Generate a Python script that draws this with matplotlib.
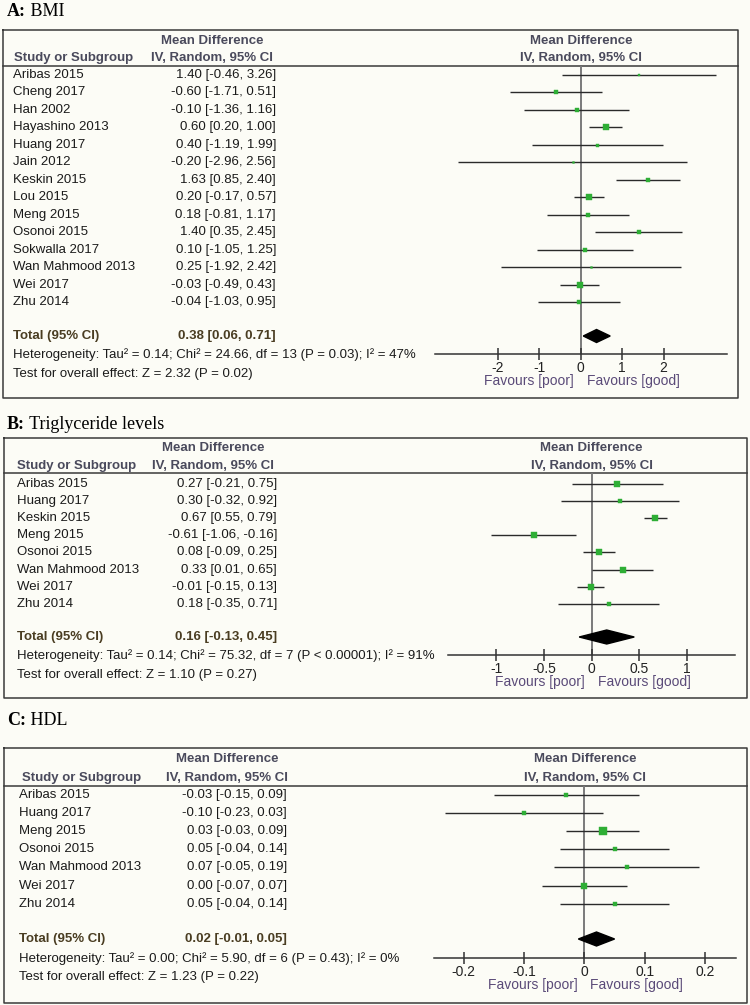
import matplotlib
matplotlib.use("Agg")
from matplotlib import pyplot as plt
from matplotlib.transforms import offset_copy

plt.rcParams["font.family"] = ["Liberation Sans", "DejaVu Sans"]

# ---- data ----
bmi_studies = ["Aribas 2015", "Cheng 2017", "Han 2002", "Hayashino 2013", "Huang 2017",
               "Jain 2012", "Keskin 2015", "Lou 2015", "Meng 2015", "Osonoi 2015",
               "Sokwalla 2017", "Wan Mahmood 2013", "Wei 2017", "Zhu 2014"]
bmi_md = [1.40, -0.60, -0.10, 0.60, 0.40, -0.20, 1.63, 0.20, 0.18, 1.40, 0.10, 0.25, -0.03, -0.04]
bmi_lo = [-0.46, -1.71, -1.36, 0.20, -1.19, -2.96, 0.85, -0.17, -0.81, 0.35, -1.05, -1.92, -0.49, -1.03]
bmi_hi = [3.26, 0.51, 1.16, 1.00, 1.99, 2.56, 2.40, 0.57, 1.17, 2.45, 1.25, 2.42, 0.43, 0.95]
bmi_weight = [2.5, 6, 5, 17, 4, 1.5, 8, 18, 6, 6, 6, 1.5, 15, 8]
bmi_total = (0.38, 0.06, 0.71)
bmi_het = "Heterogeneity: Tau\u00b2 = 0.14; Chi\u00b2 = 24.66, df = 13 (P = 0.03); I\u00b2 = 47%"
bmi_test = "Test for overall effect: Z = 2.32 (P = 0.02)"
bmi_ticks = [-2, -1, 0, 1, 2]
bmi_ticklabels = ["-2", "-1", "0", "1", "2"]

tg_studies = ["Aribas 2015", "Huang 2017", "Keskin 2015", "Meng 2015", "Osonoi 2015",
              "Wan Mahmood 2013", "Wei 2017", "Zhu 2014"]
tg_md = [0.27, 0.30, 0.67, -0.61, 0.08, 0.33, -0.01, 0.18]
tg_lo = [-0.21, -0.32, 0.55, -1.06, -0.09, 0.01, -0.15, -0.35]
tg_hi = [0.75, 0.92, 0.79, -0.16, 0.25, 0.65, 0.13, 0.71]
tg_weight = [12, 10, 14, 12, 14, 12, 14, 11]
tg_total = (0.16, -0.13, 0.45)
tg_het = "Heterogeneity: Tau\u00b2 = 0.14; Chi\u00b2 = 75.32, df = 7 (P < 0.00001); I\u00b2 = 91%"
tg_test = "Test for overall effect: Z = 1.10 (P = 0.27)"
tg_ticks = [-1, -0.5, 0, 0.5, 1]
tg_ticklabels = ["-1", "-0.5", "0", "0.5", "1"]

hdl_studies = ["Aribas 2015", "Huang 2017", "Meng 2015", "Osonoi 2015",
               "Wan Mahmood 2013", "Wei 2017", "Zhu 2014"]
hdl_md = [-0.03, -0.10, 0.03, 0.05, 0.07, 0.00, 0.05]
hdl_lo = [-0.15, -0.23, -0.03, -0.04, -0.05, -0.07, -0.04]
hdl_hi = [0.09, 0.03, 0.09, 0.14, 0.19, 0.07, 0.14]
hdl_weight = [6, 5, 30, 11, 8, 18, 11]
hdl_total = (0.02, -0.01, 0.05)
hdl_het = "Heterogeneity: Tau\u00b2 = 0.00; Chi\u00b2 = 5.90, df = 6 (P = 0.43); I\u00b2 = 0%"
hdl_test = "Test for overall effect: Z = 1.23 (P = 0.22)"
hdl_ticks = [-0.2, -0.1, 0, 0.1, 0.2]
hdl_ticklabels = ["-0.2", "-0.1", "0", "0.1", "0.2"]

BG = "#fcfcf6"
HDR = "#4a4a5c"
TOT = "#4a3d22"
FAV = "#5a4a78"
GREEN = "#2eae35"
FS = 9.5

W, H = 750, 1005
fig = plt.figure(figsize=(W / 100, H / 100), dpi=100, facecolor=BG)
canvas = fig.add_axes([0, 0, 1, 1])
canvas.set_xlim(0, W)
canvas.set_ylim(H, 0)
canvas.axis("off")


def fmt(v):
    return "%.2f [%.2f, %.2f]" % v


def panel(letter, name, lay, studies, md, lo, hi, weight, total, het, test,
          ticks, ticklabels, xlim):
    bx0, by0, bx1, by1 = lay["box"]
    # title
    t = canvas.text(lay["tx"], lay["ty"], letter + ":", family="Liberation Serif",
                    fontsize=13, fontweight="bold", va="baseline", ha="left")
    canvas.annotate(" " + name, xy=(1, 0), xycoords=t, va="bottom", ha="left",
                    family="Liberation Serif", fontsize=13)
    # box
    canvas.plot([bx0, bx1, bx1, bx0, bx0], [by0, by0, by1, by1, by0], color="#3a3a3a", lw=1.1)
    hl = lay["hline"]
    canvas.plot([bx0, bx1], [hl, hl], color="#3a3a3a", lw=1.1)
    # headers
    canvas.text(lay["lhc"], lay["h1"], "Mean Difference", ha="center", va="center",
                fontsize=FS, fontweight="bold", color=HDR)
    canvas.text(lay["lhc"], lay["h2"], "IV, Random, 95% CI", ha="center", va="center",
                fontsize=FS, fontweight="bold", color=HDR)
    canvas.text(lay["shx"], lay["h2"], "Study or Subgroup", ha="left", va="center",
                fontsize=FS, fontweight="bold", color=HDR)
    canvas.text(lay["rhc"], lay["h1"], "Mean Difference", ha="center", va="center",
                fontsize=FS, fontweight="bold", color=HDR)
    canvas.text(lay["rhc"], lay["h2"], "IV, Random, 95% CI", ha="center", va="center",
                fontsize=FS, fontweight="bold", color=HDR)
    # rows
    ys = [lay["row0"] + i * lay["step"] for i in range(len(studies))]
    for s, m, l, h, y in zip(studies, md, lo, hi, ys):
        canvas.text(lay["nx"], y, s, ha="left", va="center", fontsize=FS, color="#1a1a1a")
        canvas.text(lay["vx"], y, fmt((m, l, h)), ha="right", va="center", fontsize=FS,
                    color="#1a1a1a")
    canvas.text(lay["nx"], lay["tot"], "Total (95% CI)", ha="left", va="center",
                fontsize=FS, fontweight="bold", color=TOT)
    canvas.text(lay["vx"], lay["tot"], fmt(total), ha="right", va="center",
                fontsize=FS, fontweight="bold", color=TOT)
    canvas.text(lay["nx"], lay["het"], het, ha="left", va="center", fontsize=FS, color="#1a1a1a")
    canvas.text(lay["nx"], lay["test"], test, ha="left", va="center", fontsize=FS, color="#1a1a1a")

    # forest axes, y in pixel units
    ax0, ax1 = lay["axx"]
    ay = lay["axis"]
    ax = fig.add_axes([ax0 / W, 1 - ay / H, (ax1 - ax0) / W, (ay - hl) / H])
    ax.set_facecolor("none")
    ax.set_xlim(*xlim)
    ax.set_ylim(ay, hl)
    for sp in ["top", "left", "right"]:
        ax.spines[sp].set_visible(False)
    ax.spines["bottom"].set_color("#333333")
    ax.spines["bottom"].set_linewidth(1.1)
    ax.set_yticks([])
    ax.set_xticks(ticks)
    ax.set_xticklabels(ticklabels)
    ax.tick_params(axis="x", direction="inout", length=8, width=1.1, color="#333333",
                   labelsize=10, pad=1, labelcolor="#222222")
    ax.axvline(0, color="#7a7a7a", lw=1.4, zorder=1)
    for m, l, h, w, y in zip(md, lo, hi, weight, ys):
        ax.plot([l, h], [y, y], color="#2a2a2a", lw=1.0, zorder=2, solid_capstyle="butt")
        side = 1.5 * w ** 0.5
        ax.plot([m], [y], marker="s", ms=side * 0.72, color=GREEN, mec=GREEN, mew=0.3,
                zorder=3)
    m, l, h = total
    yt = lay["tot"]
    dh = lay["dh"]
    ax.fill([l, m, h, m], [yt, yt - dh, yt, yt + dh], color="black", zorder=3, clip_on=False)
    tr_l = offset_copy(ax.transData, fig=fig, x=-7, y=0, units="dots")
    tr_r = offset_copy(ax.transData, fig=fig, x=6, y=0, units="dots")
    ax.text(0, lay["fav"], "Favours [poor]", ha="right", va="center", fontsize=10,
            color=FAV, transform=tr_l)
    ax.text(0, lay["fav"], "Favours [good]", ha="left", va="center", fontsize=10,
            color=FAV, transform=tr_r)


lay_a = dict(box=(3, 30, 738, 398), tx=7, ty=16, hline=66, h1=41, h2=58, lhc=212,
             shx=14, rhc=581, nx=13, vx=276, row0=75, step=17.46, tot=336, het=355,
             test=374, axx=(435, 727), axis=354, fav=381, dh=6.5)
lay_b = dict(box=(4, 438, 747, 698), tx=7, ty=429, hline=473, h1=448, h2=466, lhc=213,
             shx=17, rhc=591.7, nx=17, vx=277, row0=483.5, step=17.24, tot=637, het=656,
             test=675, axx=(448, 735), axis=655, fav=682, dh=7)
lay_c = dict(box=(4, 748, 747, 1003), tx=7, ty=725, hline=786, h1=759, h2=778, lhc=227,
             shx=22, rhc=585, nx=19, vx=287, row0=795, step=18.1, tot=939, het=959,
             test=977, axx=(434, 736), axis=958, fav=985, dh=7)

panel("A", "BMI", lay_a, bmi_studies, bmi_md, bmi_lo, bmi_hi, bmi_weight, bmi_total,
      bmi_het, bmi_test, bmi_ticks, bmi_ticklabels, (-3.52, 3.53))
panel("B", "Triglyceride levels", lay_b, tg_studies, tg_md, tg_lo, tg_hi, tg_weight, tg_total,
      tg_het, tg_test, tg_ticks, tg_ticklabels, (-1.51, 1.51))
panel("C", "HDL", lay_c, hdl_studies, hdl_md, hdl_lo, hdl_hi, hdl_weight, hdl_total,
      hdl_het, hdl_test, hdl_ticks, hdl_ticklabels, (-0.249, 0.251))

fig.savefig("out.png", dpi=100, facecolor=BG)
